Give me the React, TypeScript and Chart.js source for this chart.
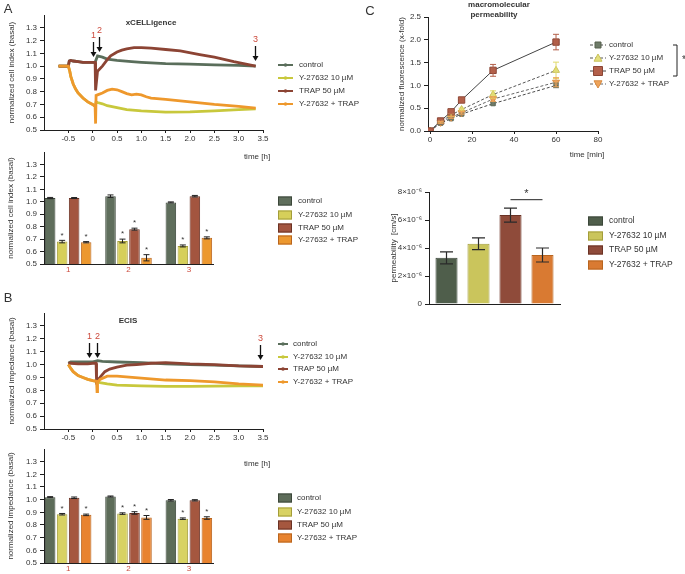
import React, { useEffect, useRef } from 'react';
import { Chart, registerables } from 'chart.js';

Chart.register(...registerables);

const FONT = '"Liberation Sans", Arial, Helvetica, sans-serif';
const TEXT = '#333333';
const AXIS = '#1f1f1f';
const RED = '#cc4a3c';

const seriesLabels = ['control', 'Y-27632 10 µM', 'TRAP 50 µM', 'Y-27632 + TRAP'];

// ---- shared tick definitions ----
const timeTickValues = [-0.5, 0, 0.5, 1, 1.5, 2, 2.5, 3, 3.5];
const timeTickLabels = ['-0.5', '0', '0.5', '1.0', '1.5', '2.0', '2.5', '3.0', '3.5'];
const normTickValues = [0.5, 0.6, 0.7, 0.8, 0.9, 1.0, 1.1, 1.2, 1.3];
const normTickLabels = ['0.5', '0.6', '0.7', '0.8', '0.9', '1.0', '1.1', '1.2', '1.3'];

// ---- A: xCELLigence time course ----
const xcelControlT = [-0.7, -0.5, -0.48, -0.45, -0.4, -0.3, -0.2, -0.1, 0, 0.05, 0.1, 0.2, 0.3, 0.5, 0.8, 1.0, 1.5, 2.0, 2.5, 3.0, 3.35];
const xcelControlV = [1.0, 1.0, 1.04, 1.045, 1.04, 1.035, 1.03, 1.03, 1.03, 1.03, 1.08, 1.07, 1.055, 1.045, 1.035, 1.03, 1.02, 1.015, 1.01, 1.005, 1.0];
const xcelTrapT = [-0.7, -0.5, -0.48, -0.45, -0.4, -0.3, -0.2, -0.1, 0, 0.05, 0.06, 0.1, 0.2, 0.3, 0.37, 0.5, 0.6, 0.7, 0.85, 1.0, 1.2, 1.5, 1.8, 2.2, 2.5, 2.9, 3.1, 3.35];
const xcelTrapV = [1.0, 1.0, 1.04, 1.045, 1.04, 1.035, 1.03, 1.03, 1.03, 1.03, 0.81, 0.96, 1.0, 1.05, 1.08, 1.11, 1.125, 1.135, 1.145, 1.145, 1.14, 1.13, 1.12, 1.09, 1.07, 1.035, 1.02, 1.0];
const xcelYT = [-0.7, -0.5, -0.47, -0.45, -0.4, -0.35, -0.3, -0.2, -0.1, 0, 0.05, 0.07, 0.1, 0.2, 0.3, 0.5, 0.7, 1.0, 1.5, 2.0, 2.5, 3.0, 3.35];
const xcelYV = [1.0, 1.0, 0.96, 0.92, 0.86, 0.82, 0.79, 0.75, 0.72, 0.70, 0.685, 0.72, 0.715, 0.705, 0.69, 0.675, 0.66, 0.65, 0.64, 0.642, 0.65, 0.66, 0.665];
const xcelYTrapT = [-0.7, -0.5, -0.47, -0.45, -0.4, -0.35, -0.3, -0.2, -0.1, 0, 0.05, 0.06, 0.07, 0.1, 0.2, 0.3, 0.4, 0.5, 0.6, 0.7, 0.8, 0.9, 1.0, 1.1, 1.2, 1.5, 2.0, 2.5, 3.0, 3.35];
const xcelYTrapV = [1.0, 1.0, 0.96, 0.92, 0.86, 0.82, 0.79, 0.75, 0.72, 0.70, 0.685, 0.55, 0.77, 0.775, 0.79, 0.81, 0.82, 0.815, 0.80, 0.785, 0.775, 0.78, 0.775, 0.76, 0.75, 0.74, 0.72, 0.70, 0.685, 0.672];

// ---- A: xCELLigence bars at time points 1, 2, 3 ----
const barGroups = [1, 2, 3];
const barGroupLabels = ['1', '2', '3'];
const xcelBarControl = [1.03, 1.045, 0.995];
const xcelBarY = [0.68, 0.685, 0.645];
const xcelBarTrap = [1.03, 0.78, 1.045];
const xcelBarYTrap = [0.675, 0.55, 0.71];
const xcelErrControl = [0.005, 0.01, 0.004];
const xcelErrY = [0.01, 0.015, 0.008];
const xcelErrTrap = [0.004, 0.008, 0.006];
const xcelErrYTrap = [0.005, 0.025, 0.008];
const xcelStarsY = [true, true, true];
const xcelStarsTrap = [false, true, false];
const xcelStarsYTrap = [true, true, true];

// ---- B: ECIS time course ----
const ecisControlT = [-0.5, -0.45, -0.3, -0.1, 0, 0.05, 0.1, 0.2, 0.5, 1.0, 1.5, 2.0, 2.5, 3.0, 3.5];
const ecisControlV = [1.01, 1.02, 1.02, 1.02, 1.02, 1.025, 1.03, 1.025, 1.02, 1.015, 1.005, 1.0, 0.995, 0.99, 0.985];
const ecisTrapT = [-0.5, -0.45, -0.3, -0.1, 0, 0.07, 0.08, 0.15, 0.25, 0.35, 0.5, 0.7, 0.9, 1.2, 1.5, 2.0, 2.5, 3.0, 3.5];
const ecisTrapV = [1.01, 1.01, 1.005, 1.005, 1.01, 1.01, 0.87, 0.9, 0.945, 0.965, 0.98, 0.995, 1.0, 1.01, 1.015, 1.005, 1.0, 0.99, 0.985];
const ecisYT = [-0.5, -0.45, -0.4, -0.3, -0.2, -0.1, 0, 0.08, 0.15, 0.3, 0.5, 1.0, 1.5, 2.0, 2.5, 3.0, 3.5];
const ecisYV = [1.0, 0.97, 0.945, 0.915, 0.9, 0.885, 0.875, 0.87, 0.86, 0.85, 0.84, 0.835, 0.83, 0.83, 0.833, 0.835, 0.835];
const ecisYTrapT = [-0.5, -0.45, -0.4, -0.3, -0.2, -0.1, 0, 0.08, 0.09, 0.1, 0.15, 0.3, 0.5, 1.0, 1.5, 2.0, 2.5, 3.0, 3.5];
const ecisYTrapV = [1.0, 0.97, 0.945, 0.915, 0.9, 0.885, 0.875, 0.87, 0.79, 0.86, 0.885, 0.91, 0.91, 0.895, 0.88, 0.875, 0.865, 0.85, 0.84];

// ---- B: ECIS bars ----
const ecisBarControl = [1.02, 1.025, 0.995];
const ecisBarY = [0.885, 0.89, 0.85];
const ecisBarTrap = [1.015, 0.895, 0.995];
const ecisBarYTrap = [0.88, 0.86, 0.855];
const ecisErrControl = [0.004, 0.004, 0.006];
const ecisErrY = [0.006, 0.006, 0.006];
const ecisErrTrap = [0.006, 0.01, 0.005];
const ecisErrYTrap = [0.006, 0.015, 0.01];
const ecisStarsY = [true, true, true];
const ecisStarsTrap = [false, true, false];
const ecisStarsYTrap = [true, true, true];

// ---- C: macromolecular permeability ----
const permTime = [0, 5, 10, 15, 30, 60];
const fluxControl = [0, 0.17, 0.27, 0.37, 0.6, 1.0];
const fluxY = [0, 0.2, 0.35, 0.47, 0.8, 1.33];
const fluxTrap = [0, 0.22, 0.42, 0.68, 1.33, 1.95];
const fluxYTrap = [0, 0.19, 0.3, 0.4, 0.7, 1.07];
const fluxErrControl = [0, 0.02, 0.02, 0.02, 0.03, 0.05];
const fluxErrY = [0, 0.02, 0.03, 0.03, 0.08, 0.18];
const fluxErrTrap = [0, 0.02, 0.04, 0.04, 0.13, 0.17];
const fluxErrYTrap = [0, 0.02, 0.02, 0.03, 0.05, 0.1];
const fluxTickValues = [0, 0.5, 1, 1.5, 2, 2.5];
const fluxTickLabels = ['0.0', '0.5', '1.0', '1.5', '2.0', '2.5'];
const minTickValues = [0, 20, 40, 60, 80];
const minTickLabels = ['0', '20', '40', '60', '80'];

const permeability = [3.3e-6, 4.3e-6, 6.35e-6, 3.5e-6];
const permeabilityErr = [0.43e-6, 0.42e-6, 0.5e-6, 0.5e-6];
const permTickValues = [0, 2e-6, 4e-6, 6e-6, 8e-6];
const permTickLabels = ['0', '2×10⁻⁶', '4×10⁻⁶', '6×10⁻⁶', '8×10⁻⁶'];

// ---- colours ----
const lineColors = ['#5a6e5b', '#c8c83c', '#8c4434', '#ee982c'];
const barFillA = ['#5f6e5c', '#d6cf5a', '#a3553f', '#ec982f'];
const barFillB = ['#5d6c59', '#d8d263', '#a5573f', '#e8832f'];
const barFillC = ['#4f5e4b', '#cac55c', '#8f4b3a', '#d97a32'];
const barEdge = ['#3c473a', '#a39d3a', '#6a3225', '#b8651f'];

const pts = (t: number[], v: number[]) => t.map((x, i) => ({ x, y: v[i] }));
const font = (size = 8, weight: any = 'normal') => ({ family: FONT, size, weight });

function yAxis(min: number, max: number, values: number[], labels: string[], title: string, width: number, titlePad: number) {
  return {
    type: 'linear', position: 'left', min, max,
    afterBuildTicks: (s: any) => { s.ticks = values.map((v) => ({ value: v })); },
    afterFit: (s: any) => { s.width = width; },
    ticks: { font: font(8), color: TEXT, padding: 3, autoSkip: false, callback: (_v: any, i: number) => labels[i] },
    grid: { display: true, drawOnChartArea: false, drawTicks: true, tickLength: 4, color: AXIS },
    border: { display: true, color: AXIS, width: 1 },
    title: { display: true, text: title, font: font(8), color: TEXT, padding: { top: titlePad, bottom: 0 } },
  };
}

function xLinear(min: number, max: number, values: number[], labels: string[], height: number, color = TEXT, tickLen = 3) {
  return {
    type: 'linear', position: 'bottom', min, max, offset: false,
    afterBuildTicks: (s: any) => { s.ticks = values.map((v) => ({ value: v })); },
    afterFit: (s: any) => { s.height = height; },
    ticks: { font: font(8), color, padding: 1, autoSkip: false, maxRotation: 0, callback: (_v: any, i: number) => labels[i] },
    grid: { display: true, offset: false, drawOnChartArea: false, drawTicks: tickLen > 0, tickLength: tickLen, color: AXIS },
    border: { display: true, color: AXIS, width: 1 },
  };
}

function drawMarker(ctx: CanvasRenderingContext2D, style: string, x: number, y: number, r: number, fill: string, stroke: string, rot: number) {
  ctx.beginPath();
  if (style === 'rect') {
    ctx.rect(x - r, y - r, 2 * r, 2 * r);
  } else if (style === 'triangle') {
    const d = rot === 180 ? -1 : 1;
    ctx.moveTo(x, y - d * r);
    ctx.lineTo(x + r, y + d * r * 0.8);
    ctx.lineTo(x - r, y + d * r * 0.8);
    ctx.closePath();
  } else {
    ctx.arc(x, y, r, 0, Math.PI * 2);
  }
  ctx.fillStyle = fill;
  ctx.fill();
  ctx.strokeStyle = stroke;
  ctx.lineWidth = 1;
  ctx.stroke();
}

function makeDecor(cfg: any) {
  return {
    id: 'decor',
    afterDatasetsDraw(chart: any) {
      const ctx: CanvasRenderingContext2D = chart.ctx;
      const ys = chart.scales.y;
      ctx.save();
      chart.data.datasets.forEach((ds: any, i: number) => {
        const meta = chart.getDatasetMeta(i);
        meta.data.forEach((el: any, j: number) => {
          const raw = ds.data[j];
          const v = typeof raw === 'number' ? raw : raw.y;
          const e = ds.errors ? ds.errors[j] : 0;
          const top = ys.getPixelForValue(v + e);
          if (e) {
            const bot = ys.getPixelForValue(v - e);
            ctx.strokeStyle = ds.errorColor || cfg.errColor || '#222';
            ctx.lineWidth = cfg.errWidth || 1;
            const c = (cfg.errCap || 6) / 2;
            ctx.beginPath();
            ctx.moveTo(el.x, top); ctx.lineTo(el.x, bot);
            ctx.moveTo(el.x - c, top); ctx.lineTo(el.x + c, top);
            ctx.moveTo(el.x - c, bot); ctx.lineTo(el.x + c, bot);
            ctx.stroke();
          }
          if (ds.stars && ds.stars[j]) {
            ctx.font = `8px ${FONT}`;
            ctx.fillStyle = TEXT;
            ctx.textAlign = 'center';
            ctx.textBaseline = 'middle';
            ctx.fillText('*', el.x, top - 5);
          }
        });
      });
      if (cfg.sig) {
        const a = chart.getDatasetMeta(cfg.sig.a).data[0];
        const b = chart.getDatasetMeta(cfg.sig.b).data[0];
        const y = ys.getPixelForValue(cfg.sig.value);
        ctx.strokeStyle = '#222';
        ctx.lineWidth = 1;
        ctx.beginPath();
        ctx.moveTo(a.x, y); ctx.lineTo(b.x, y);
        ctx.stroke();
        ctx.font = `11px ${FONT}`;
        ctx.fillStyle = TEXT;
        ctx.textAlign = 'center';
        ctx.textBaseline = 'middle';
        ctx.fillText('*', (a.x + b.x) / 2, y - 6);
      }
      ctx.restore();
    },
    afterDraw(chart: any) {
      const ctx: CanvasRenderingContext2D = chart.ctx;
      ctx.save();
      const L = cfg.legend;
      if (L) {
        chart.data.datasets.forEach((ds: any, i: number) => {
          const y = L.rows[i];
          const x = L.x;
          if (L.kind === 'box') {
            ctx.fillStyle = ds.backgroundColor;
            ctx.fillRect(x, y - L.bh / 2, L.bw, L.bh);
            ctx.strokeStyle = ds.borderColor;
            ctx.lineWidth = 1;
            ctx.strokeRect(x + 0.5, y - L.bh / 2 + 0.5, L.bw - 1, L.bh - 1);
          } else if (L.kind === 'line') {
            ctx.strokeStyle = ds.borderColor;
            ctx.lineWidth = 2;
            ctx.beginPath();
            ctx.moveTo(x, y); ctx.lineTo(x + L.bw, y);
            ctx.stroke();
            ctx.fillStyle = ds.borderColor;
            ctx.beginPath();
            ctx.arc(x + L.bw / 2, y, 1.8, 0, Math.PI * 2);
            ctx.fill();
          } else {
            ctx.strokeStyle = ds.borderColor;
            ctx.lineWidth = 1;
            ctx.setLineDash(ds.borderDash || []);
            ctx.beginPath();
            ctx.moveTo(x, y); ctx.lineTo(x + L.bw, y);
            ctx.stroke();
            ctx.setLineDash([]);
            drawMarker(ctx, ds.pointStyle, x + L.bw / 2, y, ds.pointRadius, ds.pointBackgroundColor, ds.pointBorderColor, ds.pointRotation || 0);
          }
          ctx.font = `${L.size || 8}px ${FONT}`;
          ctx.fillStyle = TEXT;
          ctx.textAlign = 'left';
          ctx.textBaseline = 'middle';
          ctx.fillText(ds.label, x + L.bw + L.gap, y);
        });
      }
      (cfg.texts || []).forEach((t: any) => {
        ctx.font = `${t.bold ? 'bold ' : ''}${t.size || 8}px ${FONT}`;
        ctx.fillStyle = t.color || TEXT;
        ctx.textAlign = t.align || 'center';
        ctx.textBaseline = 'middle';
        ctx.fillText(t.text, t.x, t.y);
      });
      (cfg.arrows || []).forEach((a: any) => {
        const px = Math.round(chart.scales.x.getPixelForValue(a.t)) + 0.5;
        ctx.strokeStyle = '#111';
        ctx.fillStyle = '#111';
        ctx.lineWidth = 1.3;
        ctx.beginPath();
        ctx.moveTo(px, a.y1); ctx.lineTo(px, a.y2 - 4);
        ctx.stroke();
        ctx.beginPath();
        ctx.moveTo(px - 3, a.y2 - 5); ctx.lineTo(px + 3, a.y2 - 5); ctx.lineTo(px, a.y2);
        ctx.closePath();
        ctx.fill();
        ctx.font = `9px ${FONT}`;
        ctx.fillStyle = RED;
        ctx.textAlign = 'center';
        ctx.textBaseline = 'middle';
        ctx.fillText(a.label, px, a.y1 - 6);
      });
      if (cfg.bracket) {
        const b = cfg.bracket;
        ctx.strokeStyle = '#222';
        ctx.lineWidth = 1;
        ctx.beginPath();
        ctx.moveTo(b.x - 4, b.y1); ctx.lineTo(b.x, b.y1); ctx.lineTo(b.x, b.y2); ctx.lineTo(b.x - 4, b.y2);
        ctx.stroke();
        ctx.font = `10px ${FONT}`;
        ctx.fillStyle = TEXT;
        ctx.textAlign = 'center';
        ctx.textBaseline = 'middle';
        ctx.fillText('*', b.x + 7, (b.y1 + b.y2) / 2);
      }
      ctx.restore();
    },
  };
}

const baseOptions = (padding: any) => ({
  responsive: false,
  animation: false,
  events: [],
  layout: { padding },
  plugins: { legend: { display: false }, tooltip: { enabled: false }, title: { display: false } },
});

const lineOrder = [2, 3, 1, 0];

function timeCourseConfig(series: { t: number[]; v: number[] }[], title: string, yTitle: string, pad: any, xHeight: number, decor: any) {
  return {
    type: 'line',
    data: {
      datasets: series.map((s, i) => ({
        label: seriesLabels[i],
        data: pts(s.t, s.v),
        borderColor: lineColors[i],
        backgroundColor: lineColors[i],
        borderWidth: 2.8,
        pointRadius: 0,
        tension: 0,
        order: lineOrder[i],
      })),
    },
    options: {
      ...baseOptions(pad),
      scales: {
        x: xLinear(-1, 3.5, timeTickValues, timeTickLabels, xHeight),
        y: yAxis(0.5, 1.4, normTickValues, normTickLabels, yTitle, 44, 7),
      },
    },
    plugins: [makeDecor(decor)],
  };
}

function groupBarConfig(values: number[][], errors: number[][], stars: (boolean[] | null)[], fills: string[], yTitle: string, pad: any, xHeight: number, decor: any) {
  return {
    type: 'bar',
    data: {
      datasets: values.map((vals, i) => ({
        label: seriesLabels[i],
        data: vals.map((y, j) => ({ x: barGroups[j], y })),
        backgroundColor: fills[i],
        borderColor: barEdge[i],
        borderWidth: 1,
        categoryPercentage: 0.795,
        barPercentage: 0.88,
        errors: errors[i],
        stars: stars[i],
      })),
    },
    options: {
      ...baseOptions(pad),
      scales: {
        x: { ...xLinear(0.6, 3.4, barGroups, barGroupLabels, xHeight, RED, 0), grid: { display: true, offset: false, drawOnChartArea: false, drawTicks: false, color: AXIS } },
        y: yAxis(0.5, 1.4, normTickValues, normTickLabels, yTitle, 44, 6),
      },
    },
    plugins: [makeDecor(decor)],
  };
}

const configs: { left: number; top: number; width: number; height: number; make: () => any }[] = [
  // A top
  {
    left: 0, top: 0, width: 380, height: 168,
    make: () => timeCourseConfig(
      [{ t: xcelControlT, v: xcelControlV }, { t: xcelYT, v: xcelYV }, { t: xcelTrapT, v: xcelTrapV }, { t: xcelYTrapT, v: xcelYTrapV }],
      'xCELLigence', 'normalized cell index (basal)', { left: 0, top: 15, right: 117, bottom: 0 }, 38,
      {
        legend: { kind: 'line', x: 278, rows: [65, 78, 91, 104], bw: 15, gap: 6 },
        texts: [
          { text: 'A', x: 8, y: 9, size: 13 },
          { text: 'xCELLigence', x: 151, y: 23, bold: true },
          { text: 'time [h]', x: 257, y: 157 },
        ],
        arrows: [
          { t: 0, y1: 42, y2: 57, label: '1' },
          { t: 0.14, y1: 37, y2: 52, label: '2' },
          { t: 3.33, y1: 46, y2: 61, label: '3' },
        ],
      }),
  },
  // A bottom
  {
    left: 0, top: 140, width: 380, height: 140,
    make: () => groupBarConfig(
      [xcelBarControl, xcelBarY, xcelBarTrap, xcelBarYTrap],
      [xcelErrControl, xcelErrY, xcelErrTrap, xcelErrYTrap],
      [null, xcelStarsY, xcelStarsTrap, xcelStarsYTrap],
      barFillA, 'normalized cell index (basal)', { left: 0, top: 12, right: 167, bottom: 0 }, 16,
      { legend: { kind: 'box', x: 278, rows: [61, 75, 88, 100], bw: 14, bh: 9, gap: 6 }, errCap: 6 }),
  },
  // B top
  {
    left: 0, top: 290, width: 380, height: 180,
    make: () => timeCourseConfig(
      [{ t: ecisControlT, v: ecisControlV }, { t: ecisYT, v: ecisYV }, { t: ecisTrapT, v: ecisTrapV }, { t: ecisYTrapT, v: ecisYTrapV }],
      'ECIS', 'normalized impedance (basal)', { left: 0, top: 23, right: 117, bottom: 0 }, 41,
      {
        legend: { kind: 'line', x: 278, rows: [54, 67, 79, 92], bw: 10, gap: 5 },
        texts: [
          { text: 'B', x: 8, y: 8, size: 13 },
          { text: 'ECIS', x: 128, y: 31, bold: true },
          { text: 'time [h]', x: 257, y: 174 },
        ],
        arrows: [
          { t: -0.08, y1: 53, y2: 68, label: '1' },
          { t: 0.09, y1: 53, y2: 68, label: '2' },
          { t: 3.43, y1: 55, y2: 70, label: '3' },
        ],
      }),
  },
  // B bottom
  {
    left: 0, top: 440, width: 380, height: 134,
    make: () => groupBarConfig(
      [ecisBarControl, ecisBarY, ecisBarTrap, ecisBarYTrap],
      [ecisErrControl, ecisErrY, ecisErrTrap, ecisErrYTrap],
      [null, ecisStarsY, ecisStarsTrap, ecisStarsYTrap],
      barFillB, 'normalized impedance (basal)', { left: 0, top: 9, right: 167, bottom: 0 }, 11,
      { legend: { kind: 'box', x: 278, rows: [58, 72, 85, 98], bw: 14, bh: 9, gap: 5 }, errCap: 6 }),
  },
  // C top
  {
    left: 360, top: 0, width: 325, height: 170,
    make: () => ({
      type: 'line',
      data: {
        datasets: [
          { label: seriesLabels[0], data: pts(permTime, fluxControl), errors: fluxErrControl, errorColor: '#6e7b69', borderColor: '#4a4a4a', borderDash: [3, 2], borderWidth: 1, pointStyle: 'rect', pointRadius: 3, pointBackgroundColor: '#6e7b69', pointBorderColor: '#56614f', order: 3 },
          { label: seriesLabels[1], data: pts(permTime, fluxY), errors: fluxErrY, errorColor: '#e0da6a', borderColor: '#555555', borderDash: [3, 2], borderWidth: 1, pointStyle: 'triangle', pointRadius: 4, pointBackgroundColor: '#e4df7c', pointBorderColor: '#c9c15a', order: 2 },
          { label: seriesLabels[2], data: pts(permTime, fluxTrap), errors: fluxErrTrap, errorColor: '#b3604a', borderColor: '#444444', borderWidth: 1, pointStyle: 'rect', pointRadius: 4.5, pointBackgroundColor: '#b3604a', pointBorderColor: '#8a4535', order: 0 },
          { label: seriesLabels[3], data: pts(permTime, fluxYTrap), errors: fluxErrYTrap, errorColor: '#eea35a', borderColor: '#666666', borderDash: [3, 2], borderWidth: 1, pointStyle: 'triangle', pointRotation: 180, pointRadius: 4, pointBackgroundColor: '#eea35a', pointBorderColor: '#d88a40', order: 1 },
        ],
      },
      options: {
        ...baseOptions({ left: 0, top: 17, right: 87, bottom: 0 }),
        scales: {
          x: xLinear(-1, 80, minTickValues, minTickLabels, 39),
          y: yAxis(0, 2.5, fluxTickValues, fluxTickLabels, 'normalized fluorescence (x-fold)', 68, 37),
        },
      },
      plugins: [makeDecor({
        errCap: 6,
        legend: { kind: 'marker', x: 230, rows: [45, 58, 71, 84], bw: 16, gap: 3, size: 8 },
        texts: [
          { text: 'C', x: 10, y: 11, size: 13 },
          { text: 'macromolecular', x: 139, y: 5, bold: true },
          { text: 'permeability', x: 134, y: 15, bold: true },
          { text: 'time [min]', x: 227, y: 155 },
        ],
        bracket: { x: 317, y1: 45, y2: 76 },
      })],
    }),
  },
  // C bottom
  {
    left: 360, top: 170, width: 325, height: 150,
    make: () => ({
      type: 'bar',
      data: {
        labels: [''],
        datasets: permeability.map((v, i) => ({
          label: seriesLabels[i],
          data: [v],
          errors: [permeabilityErr[i]],
          backgroundColor: barFillC[i],
          borderColor: barEdge[i],
          borderWidth: 1,
          categoryPercentage: 0.977,
          barPercentage: 0.69,
        })),
      },
      options: {
        ...baseOptions({ left: 0, top: 22, right: 125, bottom: 0 }),
        scales: {
          x: {
            type: 'category', position: 'bottom', offset: true,
            afterFit: (s: any) => { s.height = 16; },
            ticks: { display: false },
            grid: { display: true, drawOnChartArea: false, drawTicks: false, color: AXIS },
            border: { display: true, color: AXIS, width: 1 },
          },
          y: yAxis(0, 8e-6, permTickValues, permTickLabels, 'permeability  [cm/s]', 69, 29),
        },
      },
      plugins: [makeDecor({
        errCap: 13, errWidth: 1.2, errColor: '#2a2a2a',
        sig: { a: 2, b: 3, value: 7.45e-6 },
        legend: { kind: 'box', x: 228, rows: [51, 66, 80, 95], bw: 15, bh: 9, gap: 6, size: 8.5 },
      })],
    }),
  },
];

function ChartBox({ left, top, width, height, make }: { left: number; top: number; width: number; height: number; make: () => any }) {
  const ref = useRef<HTMLCanvasElement>(null);
  useEffect(() => {
    const chart = new Chart(ref.current as HTMLCanvasElement, make());
    return () => chart.destroy();
  }, []);
  return (
    <div style={{ position: 'absolute', left, top, width, height }}>
      <canvas ref={ref} width={width} height={height} style={{ width, height, display: 'block' }} />
    </div>
  );
}

export default function App() {
  return (
    <div style={{ position: 'fixed', left: 0, top: 0, width: 685, height: 574, background: '#ffffff', overflow: 'hidden' }}>
      {configs.map((c, i) => (
        <ChartBox key={i} {...c} />
      ))}
    </div>
  );
}
